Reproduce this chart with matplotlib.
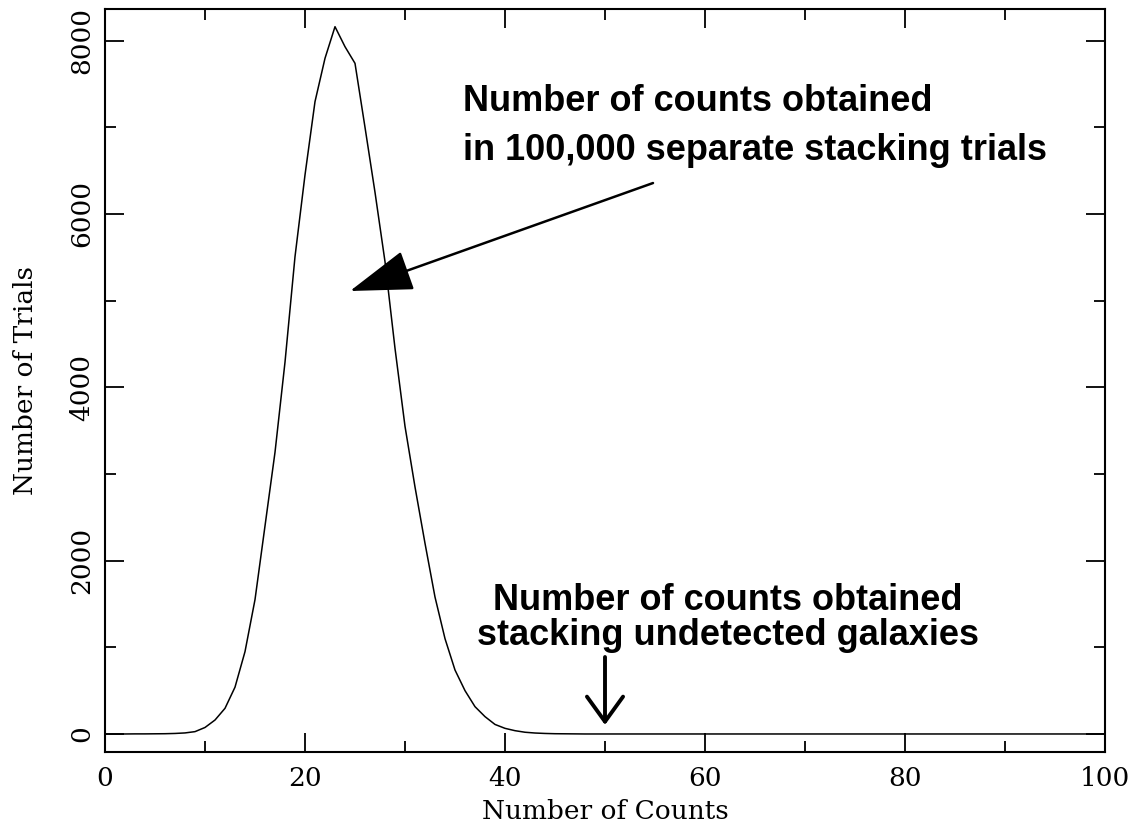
import matplotlib
matplotlib.use("Agg")
import matplotlib.pyplot as plt
import numpy as np

counts = list(range(0, 101))
trials_head = [0, 0, 0, 1, 1, 2, 3, 6, 12, 27,
               75, 161, 296, 540, 950, 1550, 2400, 3250, 4290, 5507,
               6450, 7296, 7796, 8161, 7930, 7738, 7000, 6250, 5450, 4450,
               3550, 2850, 2200, 1580, 1100, 738, 500, 315, 200, 110,
               65, 38, 20, 11, 6, 3, 2, 1]
trials = trials_head + [0] * (len(counts) - len(trials_head))

xticks_major = [0, 20, 40, 60, 80, 100]
yticks_major = [0, 2000, 4000, 6000, 8000]

fig = plt.figure(figsize=(11.37, 8.26), dpi=100)
ax = fig.add_axes([105/1137, 1-752/826, 1000/1137, 743/826])
ax.plot(counts, trials, color="black", lw=1.1)
ax.set_xlim(0, 100)
ax.set_ylim(-208, 8365)

ax.set_xticks(xticks_major)
ax.set_xticks(list(range(10, 100, 20)), minor=True)
ax.set_yticks(yticks_major)
ax.set_yticks([1000, 3000, 5000, 7000], minor=True)
ax.tick_params(which="both", direction="in", top=True, right=True, width=1.3, colors="black")
ax.tick_params(which="major", length=14)
ax.tick_params(which="minor", length=8)
for s in ax.spines.values():
    s.set_linewidth(1.5)

serif = "DejaVu Serif"
for lab in ax.get_xticklabels():
    lab.set_fontfamily(serif); lab.set_fontsize(19)
for lab in ax.get_yticklabels():
    lab.set_fontfamily(serif); lab.set_fontsize(19)
    lab.set_rotation(90); lab.set_va("center")
ax.tick_params(axis="x", pad=10)
ax.tick_params(axis="y", pad=8)
ax.set_xlabel("Number of Counts", fontfamily=serif, fontsize=19, labelpad=6)
ax.set_ylabel("Number of Trials", fontfamily=serif, fontsize=19, labelpad=22)

bold = dict(fontfamily="Liberation Sans", fontweight="bold", fontsize=26, color="black")
ax.text(35.8, 7015, "Number of counts obtained\nin 100,000 separate stacking trials",
        ha="left", va="center", linespacing=1.5, **bold)
ax.text(62.3, 1338, "Number of counts obtained\nstacking undetected galaxies",
        ha="center", va="center", linespacing=1.0, **bold)

ax.annotate("", xy=(24.5, 5111), xytext=(54.8, 6357),
            arrowprops=dict(arrowstyle="-|>,head_length=4.0,head_width=1.3", color="black", lw=1.8,
                            shrinkA=0, shrinkB=0))
ax.annotate("", xy=(50, 104), xytext=(50, 888),
            arrowprops=dict(arrowstyle="->,head_length=1.8,head_width=1.3", color="black", lw=2.8,
                            shrinkA=0, shrinkB=0))

fig.savefig("out.png", dpi=100)
